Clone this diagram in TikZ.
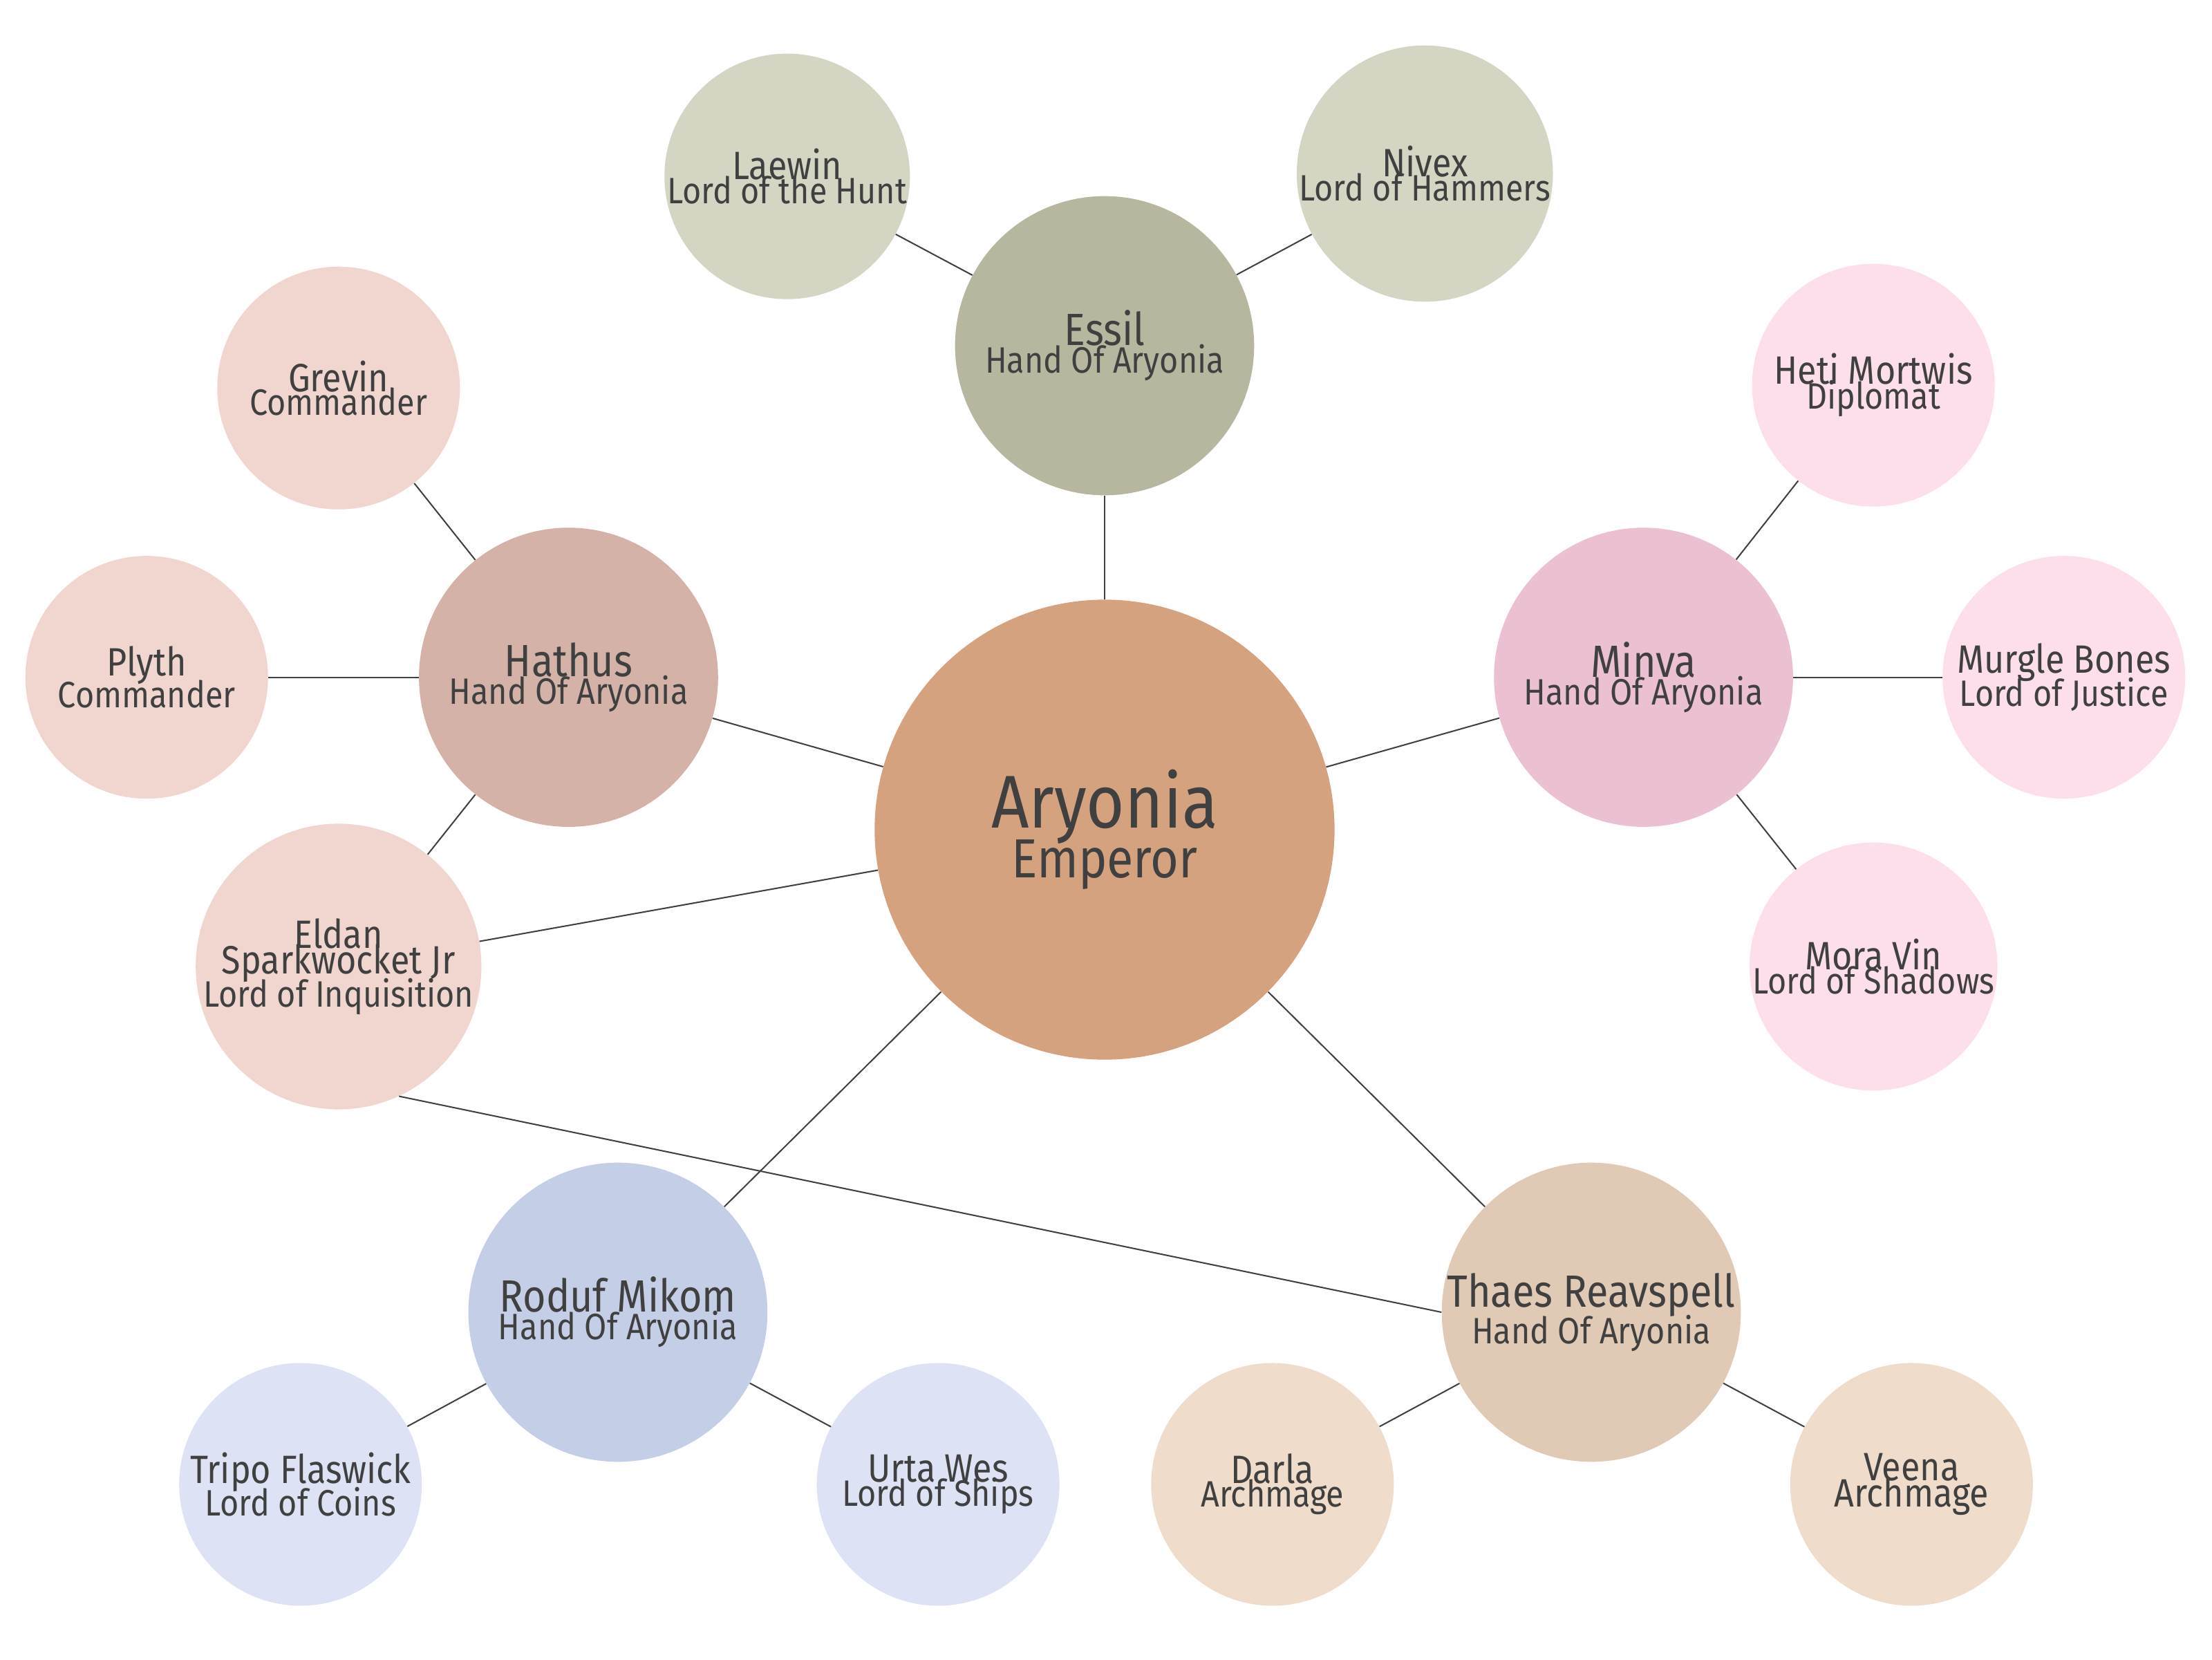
\documentclass[tikz,border=0pt]{standalone}
\usepackage{fontspec}
\setmainfont[FakeStretch=0.88]{Fira Sans}
\begin{document}
\begin{tikzpicture}[x=1pt,y=-1pt,
  every node/.style={circle,inner sep=0pt,align=center,text=txt},
  big/.style={minimum size=212pt},
  small/.style={minimum size=172pt},
  edge/.style={draw=txt,line width=1pt}]
\definecolor{txt}{HTML}{404040}
\definecolor{cA}{HTML}{D4A27F}
\definecolor{cE}{HTML}{B7B7A0}\definecolor{cEk}{HTML}{D4D5C2}
\definecolor{cH}{HTML}{D4B2A8}\definecolor{cHk}{HTML}{F0D6CF}
\definecolor{cM}{HTML}{EBC0D3}\definecolor{cMk}{HTML}{FDDFEC}
\definecolor{cR}{HTML}{C4CEE6}\definecolor{cRk}{HTML}{DDE2F4}
\definecolor{cT}{HTML}{E0C9B5}\definecolor{cTk}{HTML}{EFDCCB}
\newcommand{\nmf}{\fontsize{32}{34}\selectfont}
\newcommand{\cnf}{\fontsize{28}{30}\selectfont}
\newcommand{\sbf}{\fontsize{26}{28}\selectfont}
\fill[white] (0,0) rectangle (1568,1176);
\node[fill=cA,minimum size=326pt] (A) at (783,588) {\fontsize{53}{56}\selectfont Aryonia\\[-4pt]\fontsize{39}{42}\selectfont Emperor};
\node[big,fill=cE] (E) at (783,245) {\nmf Essil\\[-2pt]\sbf Hand Of Aryonia};
\node[small,fill=cEk] (La) at (558,125) {\cnf Laewin\\[-4pt]\sbf Lord of the Hunt};
\node[small,fill=cEk] (Ni) at (1010,123) {\cnf Nivex\\[-4pt]\sbf Lord of Hammers};
\node[big,fill=cH] (H) at (403,480) {\nmf Hathus\\[-2pt]\sbf Hand Of Aryonia};
\node[small,fill=cHk] (G) at (240,275) {\cnf Grevin\\[-4pt]\sbf Commander};
\node[small,fill=cHk] (P) at (104,480) {\cnf Plyth\\[-4pt]\sbf Commander};
\node[small,fill=cHk] (El) at (240,685) {\cnf Eldan\\[-4pt]\cnf Sparkwocket Jr\\[-4pt]\sbf Lord of Inquisition};
\node[big,fill=cM] (M) at (1165,480) {\nmf Minva\\[-2pt]\sbf Hand Of Aryonia};
\node[small,fill=cMk] (He) at (1328,273) {\cnf Heti Mortwis\\[-4pt]\sbf Diplomat};
\node[small,fill=cMk] (Mu) at (1463,480) {\cnf Murgle Bones\\[-4pt]\sbf Lord of Justice};
\node[small,fill=cMk] (Mo) at (1328,685) {\cnf Mora Vin\\[-4pt]\sbf Lord of Shadows};
\node[big,fill=cR] (R) at (438,930) {\nmf Roduf Mikom\\[-2pt]\sbf Hand Of Aryonia};
\node[small,fill=cRk] (Tr) at (213,1052) {\cnf Tripo Flaswick\\[-4pt]\sbf Lord of Coins};
\node[small,fill=cRk] (U) at (665,1052) {\cnf Urta Wes\\[-4pt]\sbf Lord of Ships};
\node[big,fill=cT] (T) at (1128,930) {\nmf Thaes Reavspell\\[-2pt]\sbf Hand Of Aryonia};
\node[small,fill=cTk] (D) at (902,1052) {\cnf Darla\\[-4pt]\sbf Archmage};
\node[small,fill=cTk] (V) at (1355,1052) {\cnf Veena\\[-4pt]\cnf Archmage};
\foreach \a/\b in {A/E,A/H,A/M,A/El,A/R,A/T,E/La,E/Ni,H/G,H/P,H/El,M/He,M/Mu,M/Mo,R/Tr,R/U,T/D,T/V}
  \draw[edge] (\a) -- (\b);
\draw[edge] (El.-65) -- (T.west);
\end{tikzpicture}
\end{document}
